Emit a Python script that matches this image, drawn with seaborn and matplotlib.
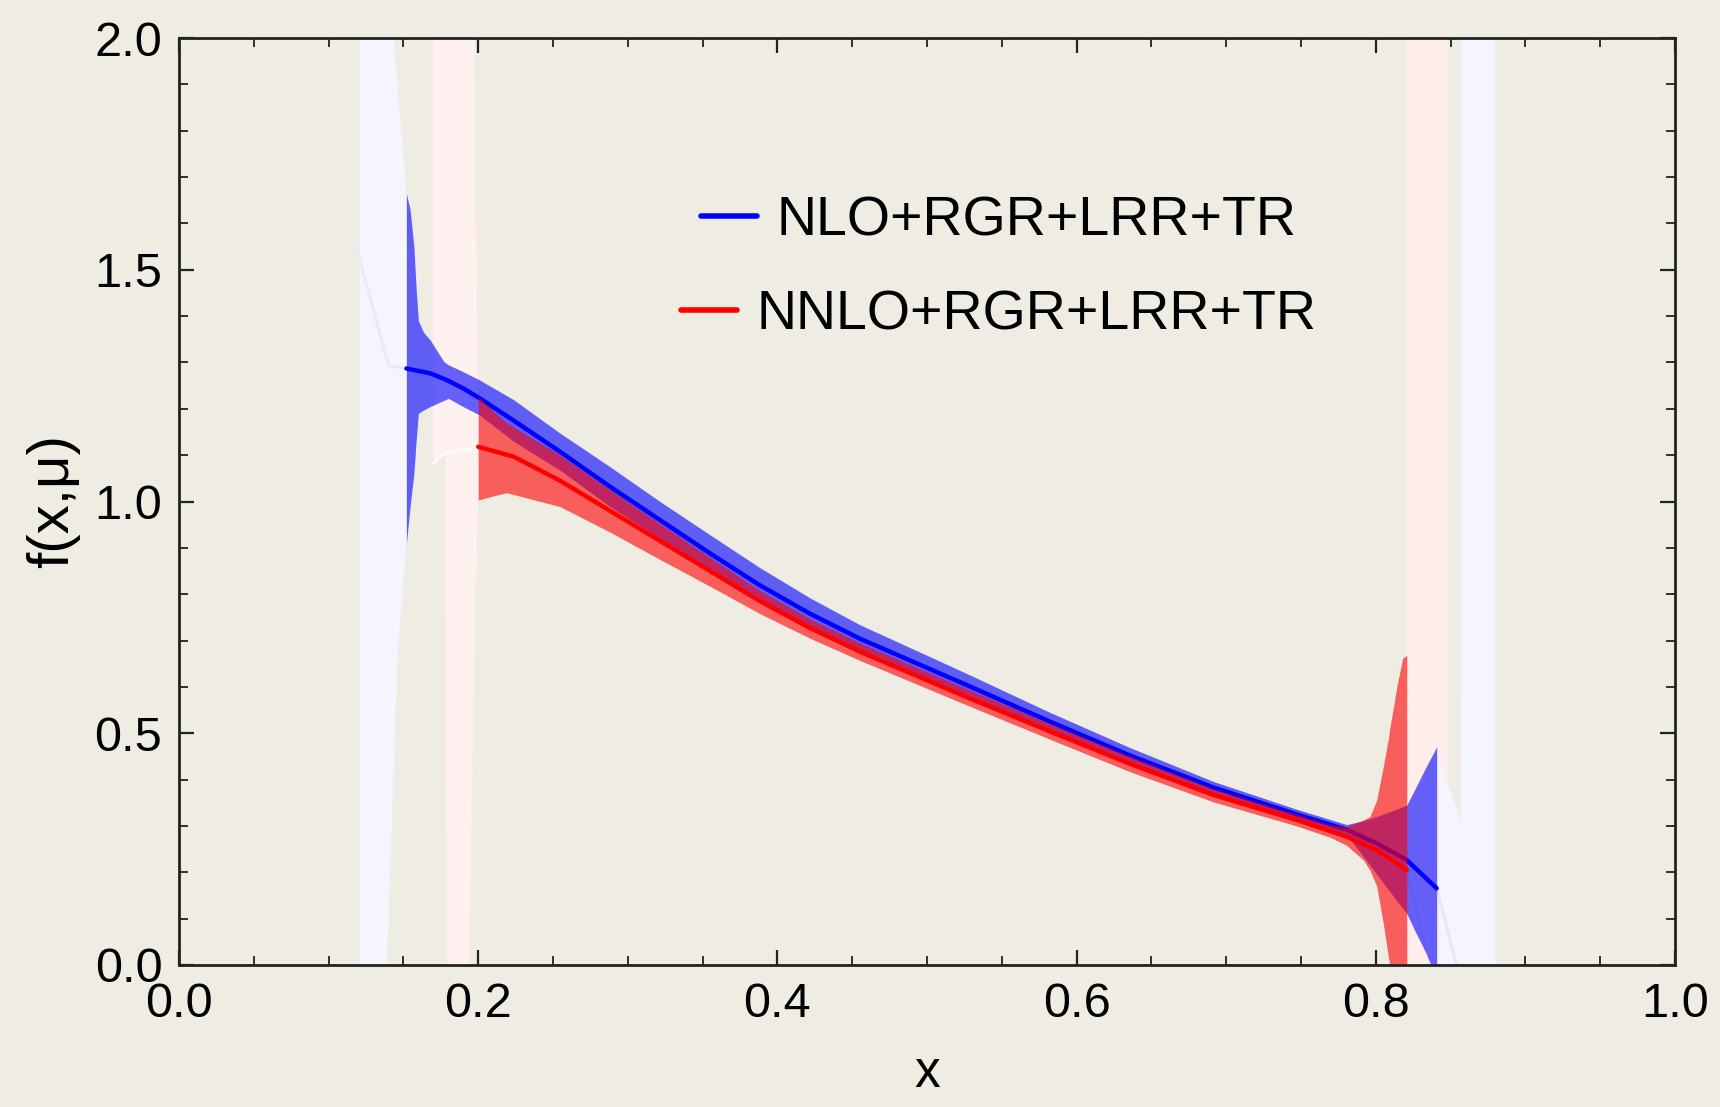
import numpy as np
import pandas as pd
import matplotlib
matplotlib.use("Agg")
import matplotlib.pyplot as plt
from matplotlib.ticker import MultipleLocator, FormatStrFormatter
from matplotlib.lines import Line2D
import seaborn as sns

# ---------------- data ----------------
# NLO+RGR+LRR+TR central curve
nlo_x = [0.152, 0.168, 0.179, 0.19, 0.201, 0.2235, 0.2547, 0.2881, 0.3215, 0.355, 0.3884,
         0.4218, 0.4552, 0.5265, 0.5822, 0.6357, 0.6914, 0.7471, 0.7805, 0.8006, 0.8207, 0.8407]
nlo_mid = [1.287, 1.2765, 1.262, 1.244, 1.2226, 1.175, 1.1075, 1.032, 0.960, 0.888, 0.819,
           0.758, 0.704, 0.604, 0.525, 0.452, 0.383, 0.325, 0.292, 0.2625, 0.2265, 0.1654]
# NLO uncertainty band
nlo_band_x = [0.152, 0.1545, 0.157, 0.1585, 0.16, 0.1633, 0.168, 0.177, 0.18, 0.19, 0.201,
              0.2235, 0.2547, 0.2881, 0.3215, 0.355, 0.3884, 0.4218, 0.4552, 0.5265, 0.5822,
              0.6357, 0.6914, 0.7471, 0.7805, 0.7917, 0.802, 0.8137, 0.8207, 0.827, 0.8337, 0.8407]
nlo_hi = [1.664, 1.63, 1.55, 1.46, 1.39, 1.366, 1.348, 1.302, 1.295, 1.28, 1.262,
          1.22, 1.1475, 1.075, 1.0, 0.928, 0.857, 0.792, 0.734, 0.629, 0.545,
          0.469, 0.396, 0.336, 0.303, 0.311, 0.322, 0.336, 0.345, 0.385, 0.428, 0.471]
nlo_lo = [0.91, 0.99, 1.06, 1.13, 1.19, 1.197, 1.205, 1.218, 1.2226, 1.2046, 1.1866,
          1.13, 1.0675, 0.989, 0.92, 0.848, 0.781, 0.724, 0.674, 0.579, 0.505,
          0.435, 0.370, 0.314, 0.281, 0.234, 0.19, 0.14, 0.111, 0.068, 0.025, -0.03]

# NNLO+RGR+LRR+TR central curve
nnlo_x = [0.2, 0.2235, 0.2547, 0.2881, 0.3215, 0.355, 0.3884, 0.4218, 0.4552, 0.5265,
          0.5822, 0.6357, 0.6914, 0.7471, 0.7805, 0.8006, 0.8207]
nnlo_mid = [1.118, 1.097, 1.045, 0.980, 0.915, 0.850, 0.785, 0.727, 0.676, 0.578,
            0.504, 0.434, 0.367, 0.313, 0.277, 0.248, 0.205]
# NNLO uncertainty band
nnlo_band_x = [0.2, 0.21, 0.219, 0.2547, 0.2881, 0.3215, 0.355, 0.3884, 0.4218, 0.4552,
               0.5265, 0.5822, 0.6357, 0.6914, 0.7471, 0.77, 0.7805, 0.7917, 0.796, 0.8006,
               0.805, 0.8085, 0.8095, 0.812, 0.814, 0.818, 0.8207]
nnlo_hi = [1.226, 1.195, 1.17, 1.10, 1.025, 0.952, 0.879, 0.808, 0.747, 0.695,
           0.596, 0.521, 0.45, 0.38, 0.325, 0.302, 0.298, 0.313, 0.32, 0.356,
           0.428, 0.49, 0.514, 0.56, 0.60, 0.662, 0.668]
nnlo_lo = [1.003, 1.012, 1.019, 0.989, 0.934, 0.875, 0.817, 0.758, 0.705, 0.657,
           0.561, 0.487, 0.417, 0.352, 0.300, 0.275, 0.258, 0.2265, 0.205, 0.17,
           0.09, 0.015, 0.0, -0.05, -0.07, -0.1, -0.12]

# faint (out-of-range) continuations
nlo_faint_left_x = [0.121, 0.139, 0.1435, 0.146, 0.152]
nlo_faint_left_hi = [5.0, 3.0, 2.0, 1.9, 1.664]
nlo_faint_left_lo = [-1.0, 0.0, 0.42, 0.66, 0.91]
nlo_faint_line_left_x = [0.118, 0.14, 0.152]
nlo_faint_line_left_y = [1.556, 1.293, 1.287]
nlo_faint_right_x = [0.8407, 0.845, 0.857, 0.8575, 0.88]
nlo_faint_right_hi = [0.471, 0.42, 0.31, 5.0, 5.0]
nlo_faint_right_lo = [-0.03, -0.2, -0.5, -1.0, -1.0]
nlo_faint_line_right_x = [0.8407, 0.858]
nlo_faint_line_right_y = [0.1654, -0.05]

nnlo_faint_left_x = [0.17, 0.178, 0.18, 0.19, 0.1925, 0.1975, 0.2]
nnlo_faint_left_hi = [5.0, 5.0, 5.0, 5.0, 5.0, 1.8, 1.24]
nnlo_faint_left_lo = [1.082, 1.10, -1.0, -1.0, -0.3, 0.7, 1.01]
nnlo_faint_line_left_x = [0.17, 0.177, 0.2]
nnlo_faint_line_left_y = [1.082, 1.104, 1.118]
nnlo_faint_right_x = [0.8207, 0.848]
nnlo_faint_right_hi = [5.0, 5.0]
nnlo_faint_right_lo = [-1.0, -1.0]
nnlo_faint_line_right_x = [0.8207, 0.84]
nnlo_faint_line_right_y = [0.205, -0.05]

labels = ["NLO+RGR+LRR+TR", "NNLO+RGR+LRR+TR"]
x_ticks = [0.0, 0.2, 0.4, 0.6, 0.8, 1.0]
y_ticks = [0.0, 0.5, 1.0, 1.5, 2.0]

# ---------------- styling ----------------
BG = "#EFECE4"
sns.set_theme(style="ticks")
plt.rcParams["font.family"] = ["Liberation Sans", "DejaVu Sans"]
plt.rcParams["axes.linewidth"] = 2.0
for k in ["text.color", "axes.labelcolor", "xtick.color", "ytick.color",
          "xtick.labelcolor", "ytick.labelcolor"]:
    plt.rcParams[k] = "black"

fig = plt.figure(figsize=(17.2, 11.07), dpi=100, facecolor=BG)
ax = fig.add_axes([179 / 1720, (1107 - 965) / 1107, 1496 / 1720, 927 / 1107])
ax.set_facecolor(BG)

# faint continuation regions
ax.fill_between(nnlo_faint_left_x, nnlo_faint_left_lo, nnlo_faint_left_hi,
                color="#FFF1EF", lw=0, zorder=1)
ax.fill_between(nnlo_faint_right_x, nnlo_faint_right_lo, nnlo_faint_right_hi,
                color="#FFEDEC", lw=0, zorder=1)
ax.fill_between(nlo_faint_left_x, nlo_faint_left_lo, nlo_faint_left_hi,
                color="#F5F5FF", lw=0, zorder=1.1)
ax.fill_between(nlo_faint_right_x, nlo_faint_right_lo, nlo_faint_right_hi,
                color="#F5F5FF", lw=0, zorder=1.1)

df_fl1 = pd.DataFrame({"x": nlo_faint_line_left_x, "y": nlo_faint_line_left_y})
df_fl2 = pd.DataFrame({"x": nlo_faint_line_right_x, "y": nlo_faint_line_right_y})
df_fl3 = pd.DataFrame({"x": nnlo_faint_line_left_x, "y": nnlo_faint_line_left_y})
df_fl4 = pd.DataFrame({"x": nnlo_faint_line_right_x, "y": nnlo_faint_line_right_y})
for d, c in [(df_fl1, "#E9E9FB"), (df_fl2, "#E6E6F8"), (df_fl3, "#FFFAFA"), (df_fl4, "#F3E6EE")]:
    sns.lineplot(data=d, x="x", y="y", ax=ax, color=c, lw=2.2, legend=False,
                 estimator=None, sort=False, zorder=1.5)

# solid bands and curves
ax.fill_between(nlo_band_x, nlo_lo, nlo_hi, color=(0, 0, 1), alpha=0.6, lw=0, zorder=2)
df_nlo = pd.DataFrame({"x": nlo_x, "y": nlo_mid})
sns.lineplot(data=df_nlo, x="x", y="y", ax=ax, color="#0000FF", lw=3.2,
             legend=False, estimator=None, sort=False, zorder=3)
ax.fill_between(nnlo_band_x, nnlo_lo, nnlo_hi, color=(1, 0, 0), alpha=0.6, lw=0, zorder=4)
df_nnlo = pd.DataFrame({"x": nnlo_x, "y": nnlo_mid})
sns.lineplot(data=df_nnlo, x="x", y="y", ax=ax, color="#FF0000", lw=3.2,
             legend=False, estimator=None, sort=False, zorder=5)

ax.set_xlim(0, 1)
ax.set_ylim(0, 2)

# ticks
ax.set_xticks(x_ticks)
ax.set_yticks(y_ticks)
ax.xaxis.set_major_formatter(FormatStrFormatter("%.1f"))
ax.yaxis.set_major_formatter(FormatStrFormatter("%.1f"))
ax.xaxis.set_minor_locator(MultipleLocator(0.05))
ax.yaxis.set_minor_locator(MultipleLocator(0.1))
ax.tick_params(which="both", direction="in", top=True, right=True, color="#222222")
ax.tick_params(which="major", length=11, width=1.6, labelsize=35, pad=12,
               labelcolor="black")
ax.tick_params(which="minor", length=6.5, width=1.3)
for s in ax.spines.values():
    s.set_color("#222222")
    s.set_zorder(10)

ax.set_xlabel("x", fontsize=37, labelpad=16, color="black")
ax.set_ylabel("f(x,μ)", fontsize=42, labelpad=10, color="black")

# legend (two centred entries, no frame)
h_nlo = Line2D([], [], color="#0000FF", lw=4)
h_nnlo = Line2D([], [], color="#FF0000", lw=4)
leg1 = ax.legend([h_nlo], [labels[0]], loc="center", bbox_to_anchor=(0.548, 0.802),
                 frameon=False, fontsize=40, handlelength=1.0, handletextpad=0.35,
                 borderpad=0, borderaxespad=0, labelcolor="black")
ax.add_artist(leg1)
leg2 = ax.legend([h_nnlo], [labels[1]], loc="center", bbox_to_anchor=(0.548, 0.701),
                 frameon=False, fontsize=40, handlelength=1.0, handletextpad=0.35,
                 borderpad=0, borderaxespad=0, labelcolor="black")

fig.savefig("out.png", dpi=100, facecolor=BG)
